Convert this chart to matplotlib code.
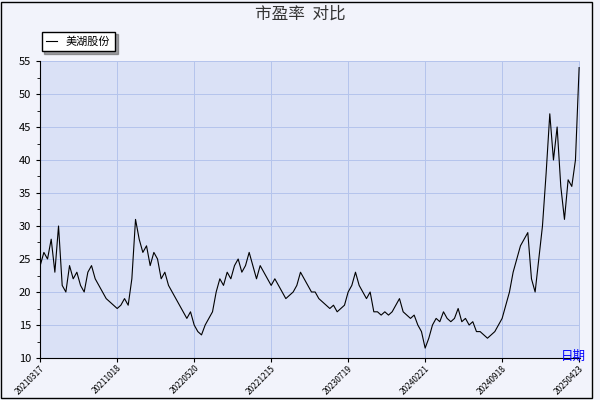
import matplotlib
matplotlib.use("Agg")
import matplotlib.pyplot as plt
import numpy as np
plt.rcParams['font.family'] = ['Noto Sans CJK SC', 'DejaVu Sans']

pe = [24, 26, 25, 28, 23, 30, 21, 20, 24, 22, 23, 21, 20, 23, 24, 22, 21, 20, 19, 18.5, 18, 17.5,
      18, 19, 18, 22, 31, 28, 26, 27, 24, 26, 25, 22, 23, 21, 20, 19, 18, 17, 16, 17, 15, 14, 13.5, 15, 16,
      17, 20, 22, 21, 23, 22, 24, 25, 23, 24, 26, 24, 22, 24, 23, 22, 21, 22, 21, 20, 19,
      19.5, 20, 21, 23, 22, 21, 20, 20, 19, 18.5, 18, 17.5, 18, 17, 17.5, 18, 20, 21, 23,
      21, 20, 19, 20, 17, 17, 16.5, 17, 16.5, 17, 18, 19, 17, 16.5, 16, 16.5, 15, 14, 11.5,
      13, 15, 16, 15.5, 17, 16, 15.5, 16, 17.5, 15.5, 16, 15, 15.5, 14, 14, 13.5, 13, 13.5, 14,
      15, 16, 18, 20, 23, 25, 27, 28, 29, 22, 20, 25, 30, 38, 47, 40, 45, 36, 31, 37, 36, 40, 54]
tick_labels = ['20210317', '20211018', '20220520', '20221215', '20230719', '20240221', '20240918', '20250423']

fig = plt.figure(figsize=(6, 4), dpi=100, facecolor='#f2f3fb')
ax = fig.add_axes([0.067, 0.105, 0.9, 0.7425])
ax.set_facecolor('#dae1f6')
x = np.arange(len(pe))
ax.plot(x, pe, color='black', lw=0.8, label='美湖股份')
L = len(pe) - 1
ticks = [i * L / 7 for i in range(8)]
ax.set_xticks(ticks)
ax.set_xticklabels(tick_labels, rotation=45, fontsize=6, ha='right', rotation_mode='anchor')
ax.set_xlim(0, L * 1.002)
ax.set_ylim(10, 55)
ax.set_yticks(range(10, 56, 5))
ax.tick_params(axis='y', labelsize=8, length=3)
ax.tick_params(axis='x', length=3, pad=1)
ax.yaxis.set_minor_locator(matplotlib.ticker.MultipleLocator(2.5))
ax.tick_params(which='minor', length=2)
ax.grid(color='#b4c4ec', lw=0.7)
for s in ['top', 'right']:
    ax.spines[s].set_visible(False)
fig.text(0.5, 0.965, '市盈率  对比', ha='center', va='center', fontsize=12, color='#333333')
fig.text(0.955, 0.11, '日期', color='blue', fontsize=9, ha='center', va='center')
fig.legend(loc='upper left', bbox_to_anchor=(0.06, 0.935), fontsize=8, frameon=True,
           fancybox=False, edgecolor='black', handlelength=1, shadow=True)
fig.patches.append(matplotlib.patches.Rectangle((0.002, 0.005), 0.985, 0.99, transform=fig.transFigure,
                   fill=False, edgecolor='black', lw=1))
fig.savefig('out.png', facecolor=fig.get_facecolor())
